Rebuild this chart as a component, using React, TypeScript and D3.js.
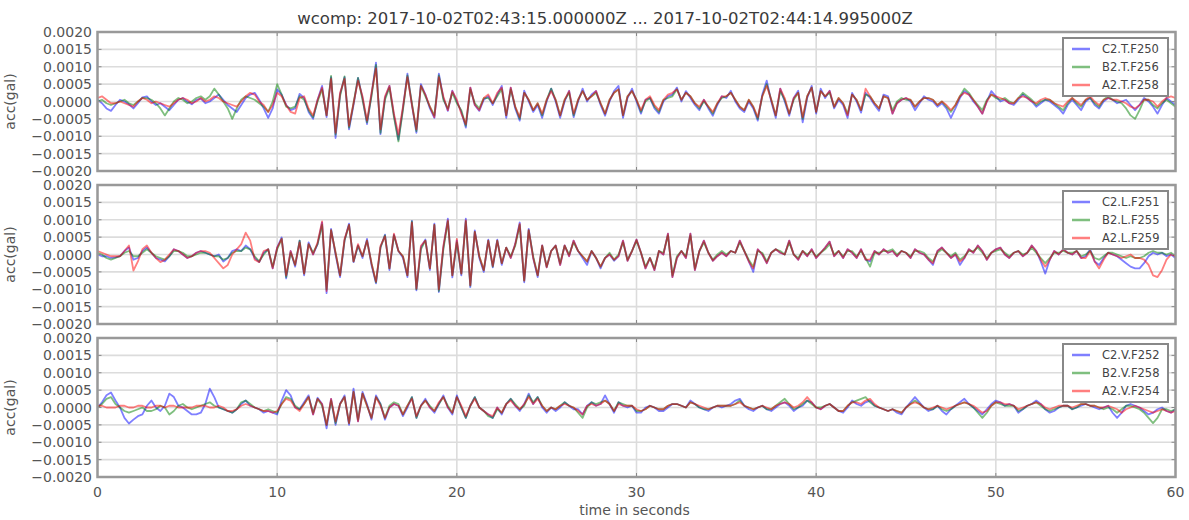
import React from 'react';
import * as d3 from 'd3';

const SAMPLE_DT = 0.25;
// All trace values below are in units of 1e-5 gal
const UNIT = 1e-5;

const titleText = 'wcomp: 2017-10-02T02:43:15.000000Z ... 2017-10-02T02:44:14.995000Z';
const xTicks = [0, 10, 20, 30, 40, 50, 60];
const yTicks = [-0.002, -0.0015, -0.001, -0.0005, 0, 0.0005, 0.001, 0.0015, 0.002];
const seriesColors = ['rgba(0,0,255,0.5)', 'rgba(0,128,0,0.5)', 'rgba(255,0,0,0.5)'];

const legendT = ['C2.T.F250', 'B2.T.F256', 'A2.T.F258'];
const legendL = ['C2.L.F251', 'B2.L.F255', 'A2.L.F259'];
const legendV = ['C2.V.F252', 'B2.V.F258', 'A2.V.F254'];

const c2T = [
  5, -5, -20, -27, -10, 5, 0, -8, -20, -5, 12, 15, 0, -10, -5, -15, -25, -10, 5, 10,
  0, -8, 5, 8, -5, 0, 10, 20, 5, -10, -20, -30, -10, 10, 20, 25, 5, -20, -47, -20,
  35, 20, -10, -25, -20, 22, 10, -30, -50, 5, 45, -45, 70, -105, 20, 70, -80, -10, 68, 10,
  -65, 20, 112, -94, 10, 45, -40, -110, -20, 80, -10, -90, 50, 20, -20, -47, 80, 10, -27, 31,
  0, -30, -75, 40, -10, -27, 5, 15, -10, 20, 45, -47, 40, -20, -55, 31, 0, -30, -10, -47,
  0, 37, 0, -47, 0, 31, -45, 0, 37, 0, 20, 30, -10, -41, 0, 30, 45, -47, 10, 37,
  0, -35, 5, 10, -20, -35, 0, 15, 20, 40, 0, 30, 10, -10, -25, 5, -20, -41, -10, 15,
  10, 31, 0, -20, -30, 0, -20, -55, 20, 60, 0, -47, 37, 0, -41, 10, 31, -60, 10, 45,
  -35, 37, 10, 31, -20, 5, -10, -47, 25, 0, -32, 25, 10, -10, -27, 20, 15, -35, -5, 5,
  10, 0, -25, -5, 15, 5, 0, -15, -5, -20, -47, -20, 10, 30, 20, 0, -15, -35, 0, 30,
  15, 0, 5, -5, -10, 5, 20, 10, 0, -15, -5, 5, 0, -10, -20, -35, -10, 5, -10, -25,
  0, 10, -10, -20, 0, 10, 5, -5, 0, 5, -10, -25, -10, 10, 0, -15, -35, -10, 10, 0,
  -10,
];
const b2T = [
  0, 5, -5, -10, -5, 0, 5, -5, -10, 0, 10, 10, 5, -5, -20, -40, -20, 0, 10, 5,
  -5, 0, 10, 15, 5, 15, 37, 20, 0, -20, -50, -20, 5, 15, 10, 5, -5, -15, -30, 0,
  50, 20, -15, -20, -15, 15, 5, -25, -45, 0, 35, -40, 74, -95, 15, 72, -75, -5, 68, 5,
  -60, 15, 105, -90, 5, 40, -45, -115, -25, 75, -5, -85, 45, 15, -15, -40, 75, 5, -20, 25,
  -5, -25, -70, 35, -5, -20, 10, 10, -5, 15, 35, -40, 35, -15, -50, 25, 5, -25, -5, -40,
  5, 37, 5, -40, 5, 25, -40, 5, 30, 5, 15, 25, -5, -35, 5, 25, 35, -40, 15, 30,
  5, -30, 0, 10, -15, -30, 5, 10, 15, 35, 5, 25, 15, -5, -20, 0, -15, -35, -5, 10,
  15, 25, 5, -15, -25, 5, -15, -50, 15, 50, 5, -40, 30, 5, -35, 5, 25, -50, 15, 40,
  -30, 30, 15, 25, -15, 10, -5, -35, 20, 5, -25, 20, 15, -5, -20, 15, 10, -25, 0, 10,
  5, 5, -15, 0, 10, 10, 5, -10, 0, -15, -30, -10, 15, 37, 25, 5, -10, -25, 5, 20,
  10, 5, 10, 0, -5, 10, 25, 15, 5, -10, 0, 5, 5, -5, -15, -25, -5, 10, -5, -15,
  5, 10, -5, -15, 5, 15, 5, 0, -5, -20, -40, -50, -25, 5, 5, -10, -20, -5, 5, -5,
  -15,
];
const a2T = [
  10, 15, 5, -5, -5, 0, -5, -10, -15, 0, 10, 5, -5, 0, -5, -10, -15, -5, 5, 10,
  5, -5, 0, 10, 0, 5, 15, 10, 0, -5, -10, -15, 0, 15, 25, 20, 0, -10, -30, -10,
  25, 15, -10, -30, -35, 10, 15, -20, -40, 5, 40, -40, 65, -90, 25, 65, -70, -5, 60, 15,
  -55, 25, 95, -80, 15, 45, -35, -95, -15, 70, -10, -80, 45, 20, -15, -45, 70, 15, -25, 30,
  5, -35, -65, 40, -10, -25, 10, 20, -5, 25, 40, -40, 40, -15, -45, 25, 5, -25, -5, -35,
  5, 30, 5, -40, 5, 30, -35, 5, 30, 5, 15, 30, -5, -35, 5, 25, 35, -40, 15, 30,
  5, -25, 5, 15, -10, -25, 5, 20, 25, 35, 5, 25, 15, -5, -15, 5, -15, -30, -5, 15,
  15, 25, 5, -15, -25, 5, -15, -45, 15, 45, 5, -40, 37, 10, -35, 10, 25, -45, 15, 40,
  -30, 30, 15, 30, -15, 10, -5, -40, 20, 5, -25, 37, 15, -5, -20, 15, 10, -35, -5, 5,
  10, 5, -15, 0, 10, 10, 5, -10, 0, -10, -25, -10, 15, 25, 20, 5, -15, -35, 0, 20,
  15, 10, 5, -5, -5, 10, 15, 10, 0, -5, 5, 10, 5, -5, -10, -15, 0, 10, 0, -10,
  5, 15, 0, -10, 5, 10, 5, 5, 0, -5, -15, -20, -10, 5, 5, 0, -15, 0, 10, 15,
  10,
];

const c2L = [
  0, -5, -5, -10, -8, -5, 10, 20, -15, -10, 10, 20, 5, -10, -15, -20, -5, 15, 10, 0,
  -10, -5, 5, 10, 5, 0, -5, 0, -20, -10, 10, 15, 10, 26, 15, -10, -22, 5, 15, -40,
  20, 49, -69, 10, -35, 40, -60, 35, 0, 30, 92, -111, 74, 0, -65, 40, 89, -22, 26, -10,
  45, -30, -83, 20, 57, -45, 57, 10, -9, -65, 97, -103, 20, 43, -45, 89, -108, 20, 103, -66,
  40, -60, 103, -94, 69, -10, -50, 43, -37, 43, -30, 20, -10, 30, 92, -80, 74, -10, -65, 26,
  -37, 10, 26, -30, 26, -5, 40, 10, -10, -30, 10, -10, -40, -10, 0, -18, -5, 40, -18, 10,
  43, 5, -40, -10, -45, 10, 0, 60, -65, -10, 10, -10, 60, -45, 10, 40, 5, -18, -5, 5,
  -5, 10, 5, 40, 10, -20, -50, 15, 0, -25, 5, 15, 5, 0, 40, 0, -15, 10, -5, 15,
  -10, 5, 20, 37, -5, 10, -10, 15, 5, -10, 15, -15, -20, 10, 0, 15, 5, 10, -5, 10,
  5, -10, 15, 5, 0, -15, -30, 10, 20, 5, -10, 0, -30, -10, 15, 5, 26, 10, -15, 5,
  15, 20, 0, -10, 5, 10, -5, 5, 26, 10, -20, -55, -15, 10, 0, 15, 5, 0, 10, -10,
  -5, 15, -20, -30, -10, 5, 0, -5, -15, -25, -35, -40, -40, -25, -5, 5, 0, 5, -5, 0,
  -10,
];
const b2L = [
  5, 0, -10, -15, -10, -5, 5, 10, -5, -5, 5, 15, 5, -5, -10, -15, -5, 10, 10, 5,
  -5, -5, 0, 5, 5, 0, -5, -5, -15, -10, 5, 10, 10, 20, 15, -5, -20, 0, 15, -35,
  15, 45, -65, 5, -30, 40, -55, 30, 5, 30, 85, -100, 70, 5, -60, 40, 85, -20, 25, -5,
  40, -25, -80, 20, 55, -40, 55, 10, -5, -60, 95, -100, 15, 40, -40, 85, -105, 15, 95, -60,
  35, -55, 95, -90, 65, -5, -45, 40, -35, 40, -25, 20, -5, 25, 85, -75, 70, -5, -60, 25,
  -35, 10, 25, -25, 25, 0, 35, 10, -5, -20, 10, -10, -35, -10, 5, -15, 0, 35, -15, 10,
  40, 5, -35, -10, -40, 10, 5, 55, -60, -5, 10, -5, 55, -40, 10, 35, 5, -15, 0, 10,
  0, 10, 5, 35, 10, -15, -35, 10, 5, -20, 5, 15, 10, 0, 35, 0, -10, 10, 0, 10,
  -5, 5, 15, 30, 0, 10, -5, 10, 10, -5, 10, -10, -35, 5, 5, 10, 10, 15, 0, 10,
  5, -5, 10, 10, 5, -10, -20, 5, 15, 5, -5, 5, -15, -5, 10, 10, 20, 5, -10, 5,
  10, 15, 5, -5, 5, 10, 0, 5, 20, 5, -10, -25, -10, 5, 5, 10, 5, 5, 10, -5,
  0, 10, -10, -15, -5, 5, 5, 0, -5, -10, -5, -10, -10, -5, 5, 10, 5, 5, 0, 5,
  -5,
];
const a2L = [
  10, 5, 0, -5, -5, -5, 10, 26, -46, -20, 15, 26, 5, -10, -22, -15, 0, 15, 10, 0,
  -10, -5, 5, 10, 10, 5, -10, -25, -40, -30, 0, 15, 30, 63, 40, -15, -22, 10, 15, -40,
  20, 45, -60, 10, -30, 35, -55, 30, 0, 35, 95, -105, 70, 5, -60, 45, 85, -20, 30, -5,
  40, -25, -78, 25, 52, -40, 60, 10, -5, -60, 92, -98, 25, 40, -40, 85, -100, 25, 98, -60,
  45, -55, 98, -88, 65, -5, -45, 40, -33, 40, -25, 20, -10, 30, 88, -75, 70, -10, -60, 26,
  -37, 10, 26, -30, 26, -5, 40, 10, -5, -20, 10, -10, -35, -10, 0, -15, -5, 40, -18, 10,
  43, 5, -40, -10, -45, 10, 0, 60, -65, -10, 10, -10, 60, -45, 10, 40, 5, -18, -5, 5,
  -5, 10, 5, 40, 10, -20, -40, 15, 0, -25, 5, 15, 5, 0, 40, 0, -15, 10, -5, 15,
  -10, 5, 20, 37, -5, 10, -10, 15, 5, -10, 15, -15, -15, 10, 0, 15, 5, 10, -5, 10,
  5, -10, 15, 5, 0, -15, -25, 10, 20, 5, -10, 0, -20, -10, 15, 5, 26, 10, -15, 5,
  15, 20, 0, -10, 5, 10, -5, 5, 26, 10, -15, -35, -15, 10, 0, 15, 5, 0, 10, -10,
  -10, 10, -20, -40, -15, 5, 0, -5, -10, -5, 0, -10, -10, -15, -30, -60, -65, -45, -15, 0,
  -5,
];

const c2V = [
  0, 15, 35, 43, 20, 0, -30, -46, -35, -25, -20, 5, 20, 0, -10, 5, 40, 30, 5, 0,
  -10, -20, -20, -15, 10, 54, 30, 0, -5, -10, -15, -5, 10, 20, 5, 0, -5, -15, -10, -15,
  -20, 20, 50, 35, 0, -5, 15, 35, -20, 28, 10, -60, 25, -50, 10, 35, -50, 54, -40, 45,
  10, -35, 35, 10, -35, 0, 10, 5, -25, 0, 30, -30, 5, 25, 0, -15, 10, 35, 0, -20,
  35, 0, -30, 5, 30, 0, -10, -20, -30, 0, -20, 10, 25, 5, -10, 10, 40, 10, 30, 0,
  -15, 0, -10, 0, 15, 5, -5, -5, -20, 5, 15, 5, 10, 35, 10, -15, 15, 5, 0, 5,
  -15, -15, 0, 5, 0, -10, -10, 0, 10, 10, 5, 0, 20, 10, 0, -5, -10, 0, 5, 0,
  5, 10, 20, 25, 5, -5, -10, 0, 5, -5, -10, 0, 10, 15, 5, -10, 0, 5, 20, 15,
  0, -5, 5, 10, 0, -10, -15, 0, 20, 10, 5, 15, 20, 5, 0, -5, -10, -5, -15, -20,
  0, 15, 30, 15, 0, -10, -5, 5, -10, -20, -5, 5, 15, 25, 10, 0, -10, -20, -5, 10,
  20, 15, 5, 10, 5, -15, -5, 5, 10, 20, 10, -5, -15, -10, 0, 5, 5, -5, 0, 5,
  10, 5, 0, -5, 0, 5, -15, -30, -15, 5, 10, 5, 0, -10, -20, -15, -5, 0, -10, -15,
  -5,
];
const b2V = [
  0, 10, 25, 30, 10, 0, -10, -15, -10, -5, 0, -10, -10, -5, 5, 0, -20, -10, 5, 10,
  0, -5, 0, 5, 10, 15, 5, 0, -5, -10, -15, -5, 15, 20, 10, 0, -5, -10, -5, -10,
  -15, 10, 30, 25, 5, -5, 10, 30, -15, 25, 5, -50, 20, -45, 10, 30, -45, 45, -35, 40,
  5, -30, 30, 10, -30, 5, 15, 10, -20, 5, 30, -30, 5, 20, 5, -10, 10, 30, 5, -15,
  30, 0, -30, 5, 30, 0, -10, -25, -30, -5, -15, 10, 25, 10, -5, 5, 35, 15, 30, 5,
  -10, 0, -5, 5, 15, 5, 0, -15, -30, 0, 15, 10, 15, 20, 10, -10, 15, 10, 5, 5,
  -10, -10, -5, 5, 0, -5, -5, 5, 10, 10, 5, 0, 15, 10, 0, -5, -5, 0, 5, 5,
  5, 5, 10, 20, 5, 0, -5, 0, 5, -5, -5, 5, 15, 25, 10, -5, 0, 10, 20, 10,
  0, 0, 5, 10, 0, -10, -10, 5, 15, 20, 25, 30, 15, 5, 0, -5, -10, -5, -10, -15,
  0, 10, 20, 10, 0, -5, -5, 5, -5, -10, -5, 5, 10, 15, 10, 0, -15, -30, -15, 5,
  15, 10, 5, 5, 5, -10, -5, 5, 10, 15, 5, -5, -10, -5, 0, 5, 5, -5, 0, 10,
  10, 5, 5, 0, -5, 0, -5, -15, -5, 5, 5, 0, -5, -15, -30, -45, -30, -5, -5, -10,
  -5,
];
const a2V = [
  5, 5, 0, 0, 0, 5, 5, 0, 0, 5, 5, 0, 0, 5, 5, 0, 5, 5, 0, 0,
  0, 0, 5, 5, 5, 0, 0, 5, 0, -10, -10, -5, 5, 10, 5, 0, -5, -10, -10, -15,
  -10, 10, 25, 20, 0, -10, 10, 30, -20, 25, 10, -50, 25, -40, 10, 30, -45, 45, -40, 40,
  5, -30, 30, 5, -30, 0, 10, 5, -20, 5, 25, -25, 5, 20, 0, -10, 15, 30, 0, -15,
  30, 5, -25, 5, 25, 0, -10, -20, -25, 0, -15, 10, 20, 5, -5, 10, 30, 10, 25, 5,
  -10, 0, -5, 5, 10, 5, 0, -10, -20, 5, 10, 5, 10, 20, 10, -10, 10, 5, 5, 5,
  -5, -10, -5, 5, 0, -5, -5, 5, 10, 10, 5, 0, 15, 10, 5, 0, -5, 0, 5, 5,
  5, 5, 10, 15, 5, 0, -5, 0, 5, 0, -5, 5, 10, 15, 10, 0, 5, 15, 30, 15,
  0, -5, 5, 10, 0, -10, -10, 5, 15, 15, 10, 20, 25, 10, 0, -5, -10, -5, -10, -15,
  0, 10, 15, 10, 0, -5, 0, 5, 0, -5, 0, 5, 10, 15, 10, 5, -5, -15, -10, 5,
  15, 15, 10, 10, 5, -5, 0, 5, 10, 15, 10, 0, -5, 0, 5, 5, 5, 0, 5, 10,
  10, 5, 5, 0, 0, 5, 0, -5, -15, -5, 0, 5, 0, -5, -10, -15, -10, -5, -10, -15,
  -10,
];

const panelTops = [32, 185, 338];
const panelSeries = [
  [c2T, b2T, a2T],
  [c2L, b2L, a2L],
  [c2V, b2V, a2V],
];
const panelLegends = [legendT, legendL, legendV];

const PLOT_LEFT = 97.5;
const PLOT_RIGHT = 1175.5;
const PANEL_H = 139;
const FONT = '"DejaVu Sans", sans-serif';

export default function App() {
  const x = d3.scaleLinear().domain([0, 60]).range([PLOT_LEFT, PLOT_RIGHT]);
  const fmt = d3.format('.4f');

  return (
    <svg
      width={1189}
      height={520}
      style={{ position: 'absolute', left: 0, top: 0, background: '#fff' }}
      fontFamily={FONT}
    >
      <rect x={0} y={0} width={1189} height={520} fill="#fff" />
      <text x={605} y={24} textAnchor="middle" fontSize={16.5} fill="#3a3a3a">
        {titleText}
      </text>
      {panelTops.map((top, pi) => {
        const y = d3
          .scaleLinear()
          .domain([-0.002, 0.002])
          .range([top + PANEL_H, top]);
        const line = d3
          .line<number>()
          .x((_, i) => x(i * SAMPLE_DT))
          .y((v) => y(v * UNIT));
        const legend = panelLegends[pi];
        const lx = 1063;
        const ly = top + 6;
        return (
          <g key={pi}>
            {yTicks.map((t, i) => (
              <line key={'gy' + i} x1={PLOT_LEFT} x2={PLOT_RIGHT} y1={y(t)} y2={y(t)} stroke="#dcdcdc" strokeWidth={1.6} />
            ))}
            {xTicks.map((t, i) => (
              <line key={'gx' + i} x1={x(t)} x2={x(t)} y1={top} y2={top + PANEL_H} stroke="#dcdcdc" strokeWidth={1.6} />
            ))}
            <g>
              {panelSeries[pi].map((s, si) => (
                <path key={si} d={line(s) || ''} fill="none" stroke={seriesColors[si]} strokeWidth={1.8} strokeLinejoin="round" />
              ))}
            </g>
            {yTicks.map((t, i) => (
              <g key={'ty' + i}>
                <line x1={PLOT_LEFT} x2={PLOT_LEFT + 4} y1={y(t)} y2={y(t)} stroke="#888" strokeWidth={1} />
                <line x1={PLOT_RIGHT - 4} x2={PLOT_RIGHT} y1={y(t)} y2={y(t)} stroke="#888" strokeWidth={1} />
                <text x={92} y={y(t)} dy="0.36em" textAnchor="end" fontSize={14} fill="#555">
                  {fmt(t)}
                </text>
              </g>
            ))}
            {xTicks.map((t, i) => (
              <g key={'tx' + i}>
                <line x1={x(t)} x2={x(t)} y1={top} y2={top + 4} stroke="#888" strokeWidth={1} />
                <line x1={x(t)} x2={x(t)} y1={top + PANEL_H - 4} y2={top + PANEL_H} stroke="#888" strokeWidth={1} />
              </g>
            ))}
            <rect x={PLOT_LEFT} y={top} width={PLOT_RIGHT - PLOT_LEFT} height={PANEL_H} fill="none" stroke="#999" strokeWidth={2.5} />
            <text
              transform={`translate(15,${top + PANEL_H / 2}) rotate(-90)`}
              textAnchor="middle"
              fontSize={14}
              fill="#555"
            >
              acc(gal)
            </text>
            <rect x={lx} y={ly} width={105} height={58} fill="#fff" stroke="#888" strokeWidth={2} />
            {legend.map((name, li) => (
              <g key={'l' + li}>
                <line x1={lx + 9} x2={lx + 27} y1={ly + 11 + li * 18} y2={ly + 11 + li * 18} stroke={seriesColors[li]} strokeWidth={2.5} />
                <text x={lx + 39} y={ly + 11 + li * 18} dy="0.35em" fontSize={11.5} fill="#444">
                  {name}
                </text>
              </g>
            ))}
          </g>
        );
      })}
      {xTicks.map((t, i) => (
        <text key={'xl' + i} x={x(t)} y={497} textAnchor="middle" fontSize={14} fill="#555">
          {t}
        </text>
      ))}
      <text x={x(30) - 2} y={515} textAnchor="middle" fontSize={14} fill="#555">
        time in seconds
      </text>
    </svg>
  );
}
